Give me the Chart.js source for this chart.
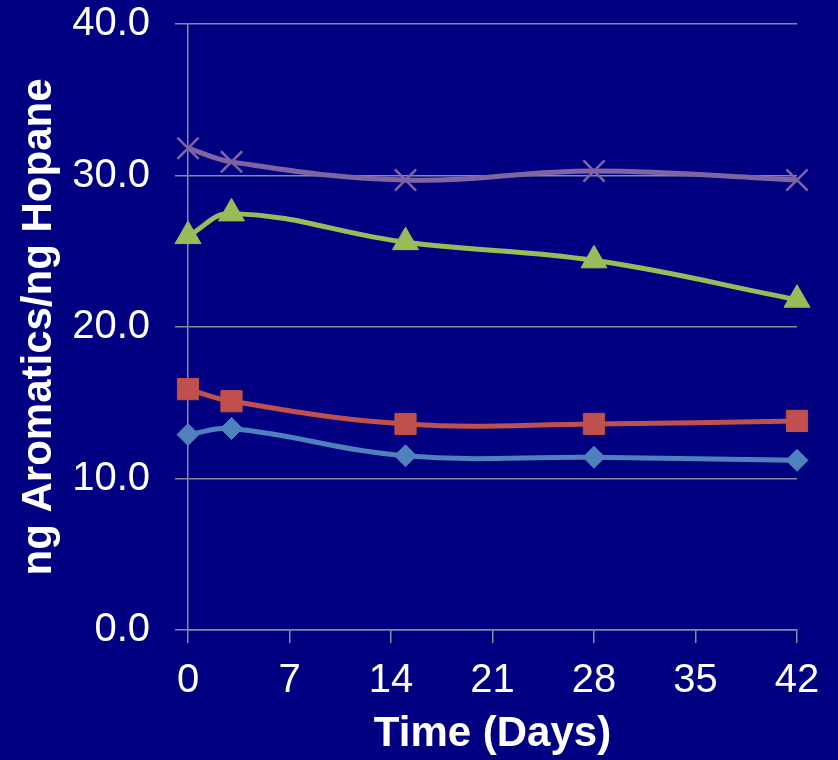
<!DOCTYPE html>
<html>
<head>
<meta charset="utf-8">
<script src="https://cdn.jsdelivr.net/npm/chart.js@4.4.1/dist/chart.umd.min.js"></script>
<style>
  html, body { margin: 0; padding: 0; background: #000080; }
  #wrap { width: 838px; height: 760px; position: relative; }
</style>
</head>
<body>
<div id="wrap"><canvas id="chart"></canvas></div>
<script>
// Sampling days
const days = [0, 3, 15, 28, 42];

// Aromatics / hopane ratios for each series
const seriesDiamond  = [12.9, 13.3, 11.5, 11.4, 11.2];
const seriesSquare   = [15.9, 15.1, 13.6, 13.6, 13.8];
const seriesTriangle = [26.0, 27.5, 25.6, 24.4, 21.8];
const seriesCross    = [31.8, 30.9, 29.7, 30.3, 29.7];

// Axis ticks
const xTicks = [0, 7, 14, 21, 28, 35, 42];
const yTicks = [0, 10, 20, 30, 40];

const FONT = "'Liberation Sans', Arial, sans-serif";
const FONT_NARROW = "'Liberation Sans Narrow', 'Arial Narrow', 'Liberation Sans', sans-serif";
const GRID = '#8a8a9a';

function pts(vals) {
  return days.map((d, i) => ({ x: d, y: vals[i] }));
}

function series(vals, color, style, radius, pbw) {
  return {
    data: pts(vals),
    borderColor: color,
    backgroundColor: color,
    pointBackgroundColor: color,
    pointBorderColor: color,
    pointStyle: style,
    pointRadius: radius,
    pointHoverRadius: radius,
    pointBorderWidth: pbw,
    borderWidth: 5,
    tension: 0.4,
    clip: false
  };
}

new Chart(document.getElementById('chart'), {
  type: 'line',
  data: {
    datasets: [
      series(seriesDiamond,  '#4F81BD', 'rectRot', 11, 1),
      series(seriesSquare,   '#C0504D', 'rect', 15, 1),
      series(seriesTriangle, '#9BBB59', 'triangle', 15, 1),
      series(seriesCross,    '#8064A2', 'crossRot', 15, 2.5)
    ]
  },
  options: {
    responsive: true,
    maintainAspectRatio: false,
    animation: false,
    events: [],
    layout: { padding: { top: 0, right: 41, left: 0, bottom: 0 } },
    plugins: { legend: { display: false }, tooltip: { enabled: false } },
    scales: {
      x: {
        type: 'linear',
        min: 0,
        max: 42,
        afterBuildTicks: (scale) => { scale.ticks = xTicks.map(v => ({ value: v })); },
        afterFit: (scale) => { scale.height = 130; },
        grid: {
          drawOnChartArea: false,
          drawTicks: true,
          tickLength: 13,
          color: GRID,
          lineWidth: 1.5
        },
        border: { display: true, color: GRID, width: 1.5 },
        ticks: {
          color: '#ffffff',
          font: { family: FONT_NARROW, size: 40 },
          padding: 14,
          maxRotation: 0,
          autoSkip: false
        },
        title: {
          display: true,
          text: 'Time (Days)',
          color: '#ffffff',
          font: { family: FONT, size: 42, weight: 'bold', lineHeight: 1.1 },
          padding: { top: 0, bottom: 2 }
        }
      },
      y: {
        type: 'linear',
        min: 0,
        max: 40,
        afterBuildTicks: (scale) => { scale.ticks = yTicks.map(v => ({ value: v })); },
        afterFit: (scale) => {
          scale.width = 188;
          scale.paddingTop = 24;
          scale.paddingBottom = 0;
        },
        grid: {
          drawOnChartArea: true,
          drawTicks: true,
          tickLength: 13,
          color: GRID,
          lineWidth: 1.5
        },
        border: { display: true, color: GRID, width: 1.5 },
        ticks: {
          color: '#ffffff',
          font: { family: FONT, size: 40 },
          padding: 25,
          callback: (v) => Number(v).toFixed(1)
        },
        title: {
          display: true,
          text: 'ng Aromatics/ng Hopane',
          color: '#ffffff',
          font: { family: FONT, size: 42, weight: 'bold', lineHeight: 1.2 },
          padding: { top: 14, bottom: 0 }
        }
      }
    }
  }
});
</script>
</body>
</html>
